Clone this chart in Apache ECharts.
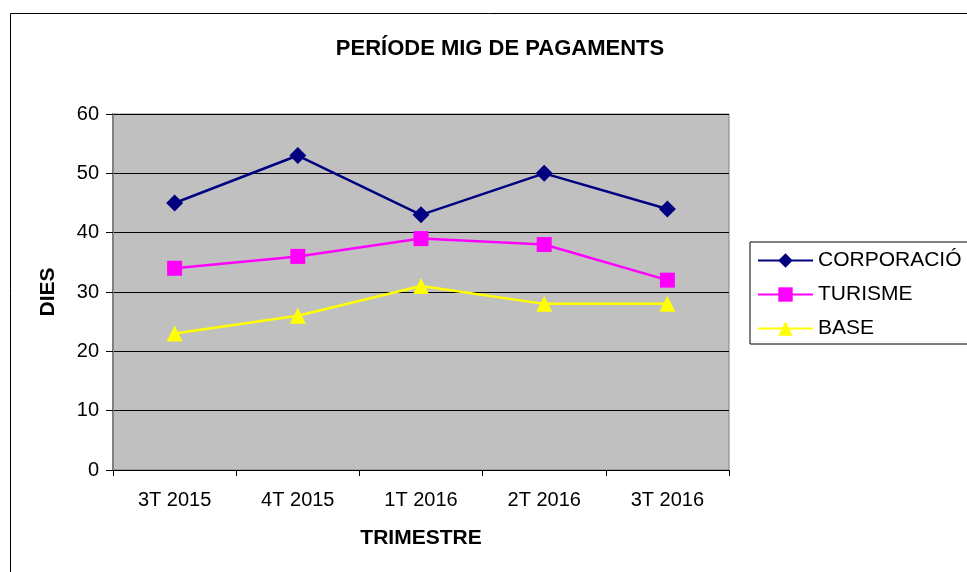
<!DOCTYPE html>
<html>
<head>
<meta charset="utf-8">
<script src="https://cdn.jsdelivr.net/npm/echarts@6/dist/echarts.min.js"></script>
<style>
  html, body { margin: 0; padding: 0; background: #fff; }
  #chart { width: 967px; height: 572px; }
</style>
</head>
<body>
<div id="chart"></div>
<script>
// trimestres i dies
var trimestres = ['3T 2015', '4T 2015', '1T 2016', '2T 2016', '3T 2016'];
var corporacio = [45, 53, 43, 50, 44];
var turisme = [34, 36, 39, 38, 32];
var base = [23, 26, 31, 28, 28];

var font = 'Liberation Sans, Arial, sans-serif';

var chart = echarts.init(document.getElementById('chart'));

function serie(name, data, color, symbol, size) {
  return {
    name: name,
    type: 'line',
    data: data,
    symbol: symbol,
    symbolSize: size,
    lineStyle: { color: color, width: 2.5 },
    itemStyle: { color: color },
    z: 3
  };
}

var option = {
  backgroundColor: '#fff',
  animation: false,
  title: {
    text: 'PERÍODE MIG DE PAGAMENTS',
    left: 495,
    top: 33,
    textAlign: 'center',
    textStyle: { fontFamily: font, fontSize: 22, fontWeight: 'bold', color: '#000' }
  },
  graphic: [
    {
      type: 'rect',
      shape: { x: 10.5, y: 13.5, width: 970, height: 580 },
      style: { fill: null, stroke: '#000', lineWidth: 1 },
      silent: true
    }
  ],
  legend: {
    orient: 'vertical',
    left: 750,
    top: 242,
    width: 240,
    padding: [8, 30, 5, 7],
    itemGap: 13,
    itemWidth: 55,
    itemHeight: 18,
    borderColor: '#000',
    borderWidth: 1,
    textStyle: { fontFamily: font, fontSize: 21, color: '#000' },
    data: ['CORPORACIÓ', 'TURISME', 'BASE']
  },
  grid: {
    left: 113,
    top: 114,
    width: 616,
    height: 356,
    show: true,
    backgroundColor: '#C0C0C0',
    borderColor: '#808080',
    borderWidth: 1
  },
  xAxis: {
    type: 'category',
    data: trimestres,
    boundaryGap: true,
    name: 'TRIMESTRE',
    nameLocation: 'middle',
    nameGap: 58,
    nameTextStyle: { fontFamily: font, fontSize: 21, fontWeight: 'bold', color: '#000' },
    axisLine: { lineStyle: { color: '#000', width: 1 } },
    axisTick: { show: true, length: 6, lineStyle: { color: '#000' } },
    axisLabel: { fontFamily: font, fontSize: 20, color: '#000', margin: 20 }
  },
  yAxis: {
    type: 'value',
    min: 0,
    max: 60,
    interval: 10,
    name: 'DIES',
    nameLocation: 'middle',
    nameGap: 54,
    nameRotate: 90,
    nameTextStyle: { fontFamily: font, fontSize: 21, fontWeight: 'bold', color: '#000' },
    axisLine: { show: true, lineStyle: { color: '#808080', width: 2 } },
    axisTick: { show: true, length: 7, lineStyle: { color: '#000' } },
    axisLabel: { fontFamily: font, fontSize: 20, color: '#000', margin: 14 },
    splitLine: { show: true, lineStyle: { color: '#000', width: 1 } }
  },
  series: [
    serie('CORPORACIÓ', corporacio, '#000080', 'diamond', 17),
    serie('TURISME', turisme, '#FF00FF', 'rect', 15),
    serie('BASE', base, '#FFFF00', 'triangle', 16)
  ]
};

chart.setOption(option);
</script>
</body>
</html>
